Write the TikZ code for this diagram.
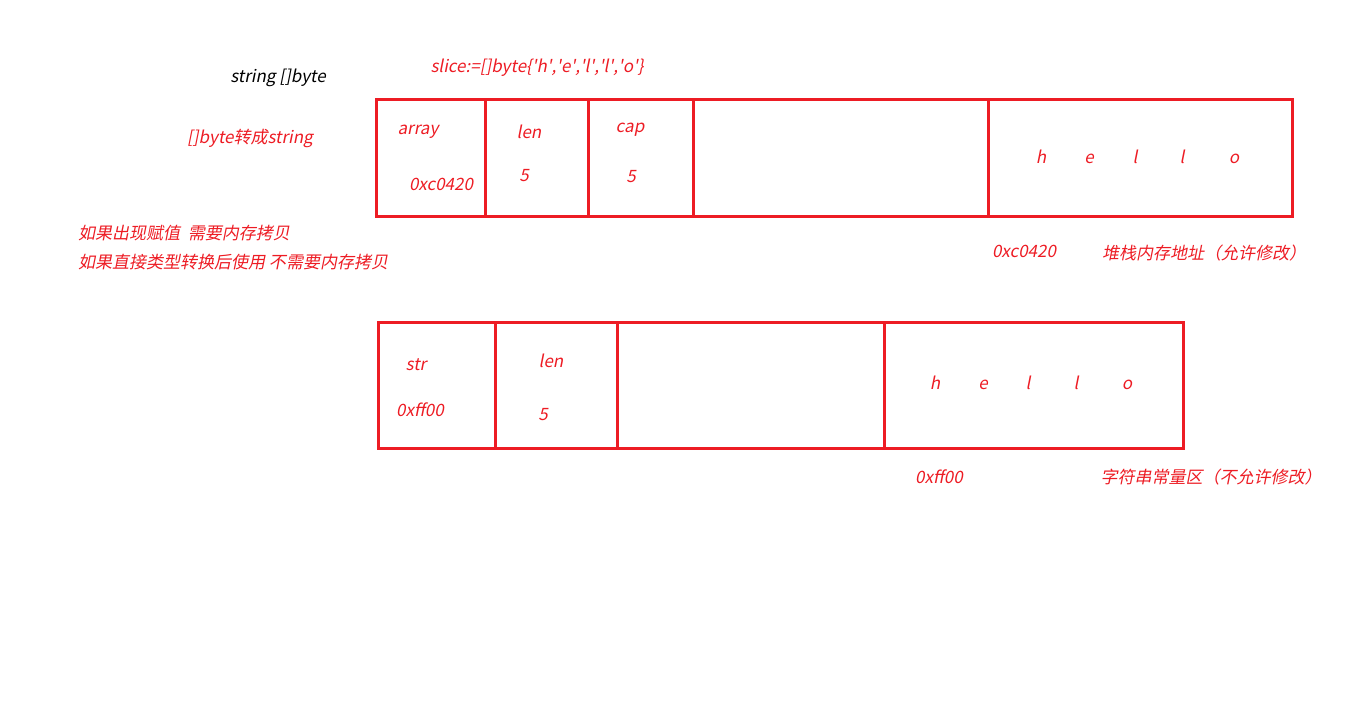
\documentclass[tikz,border=0pt]{standalone}
\usepackage{fontspec}
\setmainfont{Noto Sans CJK SC}[FakeSlant=0.2]
\definecolor{pred}{HTML}{ED1C24}
\newcommand{\sq}{\textquotesingle}
\begin{document}
\begin{tikzpicture}[x=1pt,y=-1pt,
  box/.style={draw=pred,line width=3pt},
  lbl/.style={text=pred,font=\fontsize{17}{19}\selectfont,inner sep=0pt,anchor=base},
  blk/.style={text=black,font=\fontsize{17}{19}\selectfont,inner sep=0pt,anchor=base}]
\useasboundingbox (0,0) rectangle (1360,705);
% top structure
\draw[box] (376,99) rectangle (1292,216);
\foreach \x in {485,588,693,988} \draw[box] (\x,99) -- (\x,216);
% bottom structure
\draw[box] (378,322) rectangle (1183,448);
\foreach \x in {495,617,884} \draw[box] (\x,322) -- (\x,448);
% texts
\node[blk] (t1) at (278,82) {string []byte};
\node[lbl] (t2) at (537,72) {slice:=[]byte\{\sq h\sq,\sq e\sq,\sq l\sq,\sq l\sq,\sq o\sq\}};
\node[lbl] (t3) at (250,143) {[]byte转成string};
\node[lbl] (a1) at (418,134) {array};
\node[lbl] (a2) at (441,190) {0xc0420};
\node[lbl] (a3) at (529,138) {len};
\node[lbl] (a4) at (524,181) {5};
\node[lbl] (a5) at (630,132) {cap};
\node[lbl] (a6) at (631,182) {5};
\node[lbl] (h1) at (1041,163) {h};
\node[lbl] (h2) at (1089,163) {e};
\node[lbl] (h3) at (1135,163) {l};
\node[lbl] (h4) at (1182,163) {l};
\node[lbl] (h5) at (1234,163) {o};
\node[lbl] (b1) at (1024,257) {0xc0420};
\node[lbl] (b2) at (1204,259) {堆栈内存地址（允许修改）};
\node[lbl,anchor=base west] (c1) at (78,239) {如果出现赋值\ \ 需要内存拷贝};
\node[lbl,anchor=base west] (c2) at (78,268) {如果直接类型转换后使用 不需要内存拷贝};
\node[lbl] (s1) at (416,370) {str};
\node[lbl] (s2) at (420,416) {0xff00};
\node[lbl] (s3) at (551,367) {len};
\node[lbl] (s4) at (543,420) {5};
\node[lbl] (g1) at (935,389) {h};
\node[lbl] (g2) at (983,389) {e};
\node[lbl] (g3) at (1028,389) {l};
\node[lbl] (g4) at (1076,389) {l};
\node[lbl] (g5) at (1127,389) {o};
\node[lbl] (d1) at (939,483) {0xff00};
\node[lbl] (d2) at (1211,483) {字符串常量区（不允许修改）};
\end{tikzpicture}
\end{document}
